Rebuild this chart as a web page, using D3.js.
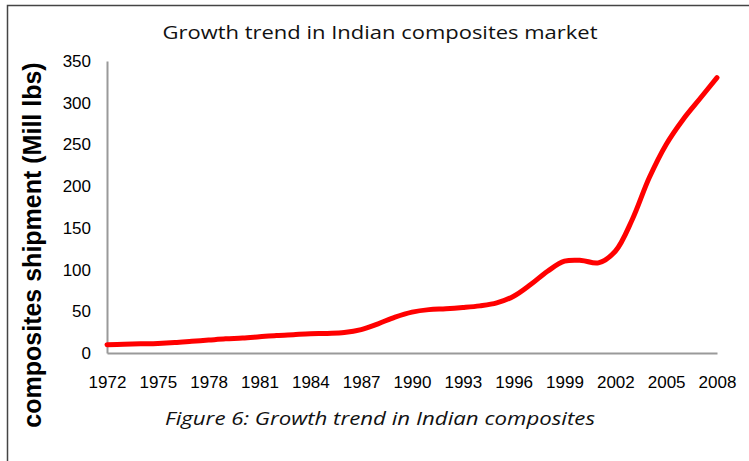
<!DOCTYPE html>
<html>
<head>
<meta charset="utf-8">
<script src="https://cdn.jsdelivr.net/npm/d3@7"></script>
<style>
  html, body { margin: 0; padding: 0; background: #fff; }
  svg { display: block; }
</style>
</head>
<body>
<svg id="chart" width="749" height="461"></svg>
<script>
// Yearly shipments, 1972-2008
const years = d3.range(1972, 2009);
const shipments = [
  10, 10.5, 11, 11.5, 12.5, 14, 15.5, 17, 18, 19.5,
  21, 22, 23, 23.5, 24.5, 28, 35, 43, 49, 52,
  53, 54.5, 56.5, 60, 68, 82, 98, 110, 111, 108,
  122, 160, 210, 250, 280, 305, 330
];
const xTickYears = d3.range(1972, 2009, 3);
const yTicks = [0, 50, 100, 150, 200, 250, 300, 350];

const titleText = "Growth trend in Indian composites market";
const captionText = "Figure 6: Growth trend in Indian composites";
const yTitleText = "composites shipment (Mill lbs)";

const svg = d3.select("#chart");
const W = 749, H = 461;
const plot = { left: 107, right: 717, top: 61, bottom: 353 };

// outer frame (runs off the right and bottom edges)
svg.append("path")
  .attr("d", `M7.5,${H + 5} V5.5 H${W + 5}`)
  .attr("fill", "none")
  .attr("stroke", "#444")
  .attr("stroke-width", 1.5);

const x = d3.scalePoint().domain(years).range([plot.left, plot.right]);
const y = d3.scaleLinear().domain([0, 350]).range([plot.bottom, plot.top]);

const tickFont = "Arial, 'Liberation Sans', sans-serif";

// y axis
const gy = svg.append("g")
  .attr("transform", `translate(${plot.left},0)`)
  .call(d3.axisLeft(y).tickValues(yTicks).tickSize(0).tickPadding(16));
gy.select(".domain").attr("stroke", "#9a9a9a").attr("stroke-width", 2);
gy.selectAll("text")
  .attr("font-family", tickFont)
  .attr("font-size", 17)
  .attr("fill", "#000");

// x axis
const gx = svg.append("g")
  .attr("transform", `translate(0,${plot.bottom})`)
  .call(d3.axisBottom(x).tickValues(xTickYears).tickSize(0).tickPadding(23));
gx.select(".domain").attr("stroke", "#9a9a9a").attr("stroke-width", 2);
gx.selectAll("text")
  .attr("font-family", tickFont)
  .attr("font-size", 17)
  .attr("fill", "#000");

// shipment line, smoothed
const line = d3.line()
  .x((d, i) => x(years[i]))
  .y(d => y(d))
  .curve(d3.curveCatmullRom.alpha(0.5));

svg.append("path")
  .datum(shipments)
  .attr("d", line)
  .attr("fill", "none")
  .attr("stroke", "#ff0000")
  .attr("stroke-width", 5)
  .attr("stroke-linecap", "round")
  .attr("stroke-linejoin", "round");

// chart title
svg.append("text")
  .attr("x", 380)
  .attr("y", 39)
  .attr("text-anchor", "middle")
  .attr("font-family", "'Open Sans', sans-serif")
  .attr("font-size", 19)
  .attr("fill", "#111")
  .attr("textLength", 435)
  .attr("lengthAdjust", "spacingAndGlyphs")
  .text(titleText);

// y axis title
svg.append("text")
  .attr("transform", "translate(41,245) rotate(-90)")
  .attr("text-anchor", "middle")
  .attr("font-family", tickFont)
  .attr("font-weight", "bold")
  .attr("font-size", 25)
  .attr("fill", "#000")
  .text(yTitleText);

// figure caption
svg.append("text")
  .attr("x", 380)
  .attr("y", 425)
  .attr("text-anchor", "middle")
  .attr("font-family", "'Open Sans', sans-serif")
  .attr("font-style", "italic")
  .attr("font-size", 18)
  .attr("fill", "#111")
  .attr("textLength", 430)
  .attr("lengthAdjust", "spacingAndGlyphs")
  .text(captionText);
</script>
</body>
</html>
